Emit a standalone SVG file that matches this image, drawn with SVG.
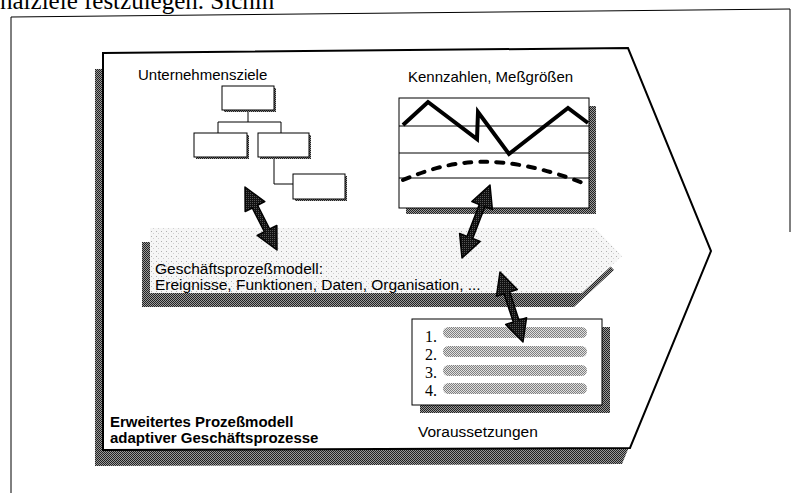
<svg xmlns="http://www.w3.org/2000/svg" width="792" height="493" viewBox="0 0 792 493">
<defs>
<pattern id="dk" width="2" height="2" patternUnits="userSpaceOnUse"><rect width="2" height="2" fill="#9a9a9a"/><rect width="1" height="1" fill="#222"/><rect x="1" y="1" width="1" height="1" fill="#222"/></pattern>
<pattern id="lt" width="5" height="5" patternUnits="userSpaceOnUse"><rect width="5" height="5" fill="#f6f6f6"/><rect x="1" y="1" width="1" height="1" fill="#b0b0b0"/><rect x="3" y="3" width="1" height="1" fill="#d0d0d0"/></pattern>
<pattern id="md" width="2" height="2" patternUnits="userSpaceOnUse"><rect width="2" height="2" fill="#e0e0e0"/><rect width="1" height="1" fill="#808080"/><rect x="1" y="1" width="1" height="1" fill="#808080"/></pattern>
<pattern id="ar" width="2" height="2" patternUnits="userSpaceOnUse"><rect width="2" height="2" fill="#111"/><rect width="1" height="1" fill="#555"/></pattern>
</defs>
<style>
.t{font-family:"Liberation Sans",Arial,sans-serif;fill:#000}
.s{font-family:"Liberation Serif","Times New Roman",serif;fill:#000}
.box{fill:#fff;stroke:#000;stroke-width:1}
.sh{fill:url(#dk)}
.ln{fill:none;stroke:#000;stroke-width:1}
.arr{fill:url(#ar);stroke:#000;stroke-width:1.5;stroke-linejoin:round}
.bar{fill:url(#md)}
</style>

<text class="s" x="0" y="9" font-size="25">nalziele festzulegen. Sichin</text>

<g id="frame">
<polyline class="ln" points="11,493 11,17 790,9 790,232" stroke-width="1.5"/>
</g>

<g id="process-model">
<polygon class="sh" points="95,69 620,64 703,267 622,464 95,466"/>
<polygon fill="#fff" stroke="#000" stroke-width="2" points="103,53 628,48 711,251 630,448 103,450"/>
<text class="t" x="110" y="427" font-size="15" font-weight="bold">Erweitertes Prozeßmodell</text>
<text class="t" x="110" y="443" font-size="15" font-weight="bold">adaptiver Geschäftsprozesse</text>
</g>

<g id="goals">
<text class="t" x="138" y="80" font-size="15">Unternehmensziele</text>
<polyline class="ln" points="248,110 248,122"/>
<polyline class="ln" points="218,133 218,122 281,122 281,133"/>
<polyline class="ln" points="274,157 274,184 293,184"/>
<rect class="sh" x="224" y="88" width="52" height="24"/>
<rect class="box" x="222" y="86" width="52" height="24"/>
<rect class="sh" x="196" y="135" width="53" height="24"/>
<rect class="box" x="194" y="133" width="53" height="24"/>
<rect class="sh" x="260" y="135" width="51" height="24"/>
<rect class="box" x="258" y="133" width="51" height="24"/>
<rect class="sh" x="295" y="176" width="52" height="25"/>
<rect class="box" x="293" y="174" width="52" height="25"/>
</g>

<g id="metrics">
<text class="t" x="408" y="82" font-size="15">Kennzahlen, Meßgrößen</text>
<rect class="sh" x="406" y="106" width="190" height="108"/>
<rect class="box" x="399" y="98" width="190" height="110"/>
<line class="ln" x1="399" y1="126" x2="589" y2="126"/>
<line class="ln" x1="399" y1="153" x2="589" y2="153"/>
<line class="ln" x1="399" y1="178" x2="589" y2="178"/>
<polyline fill="none" stroke="#000" stroke-width="4" stroke-linejoin="miter" points="403,125 428,102 477,139 478,112 509,154 568,108 588,123"/>
<path d="M403,180 C450,160 500,150 588,185" fill="none" stroke="#000" stroke-width="4" stroke-linecap="round" stroke-dasharray="7 9"/>
</g>

<g id="business-model">
<polygon class="sh" points="142,242 587,242 614,270 574,307 142,307"/>
<polygon fill="url(#lt)" points="150,228 595,228 622,256 582,293 150,293"/>
<text class="t" x="155" y="274" font-size="15.5">Geschäftsprozeßmodell:</text>
<text class="t" x="155" y="290" font-size="15.5">Ereignisse, Funktionen, Daten, Organisation, ...</text>
</g>

<g id="prerequisites">
<rect class="sh" x="420" y="327" width="190" height="86"/>
<rect class="box" x="412" y="319" width="190" height="86"/>
<text class="s" x="425" y="342" font-size="16">1.</text>
<text class="s" x="425" y="360" font-size="16">2.</text>
<text class="s" x="425" y="378" font-size="16">3.</text>
<text class="s" x="425" y="396" font-size="16">4.</text>
<rect class="bar" x="443" y="327" width="144" height="11" rx="5.5"/>
<rect class="bar" x="443" y="346" width="144" height="11" rx="5.5"/>
<rect class="bar" x="443" y="365" width="144" height="11" rx="5.5"/>
<rect class="bar" x="443" y="383" width="144" height="11" rx="5.5"/>
<text class="t" x="418" y="437" font-size="15.5">Voraussetzungen</text>
</g>

<g id="connectors">
<polygon class="arr" points="245,187 245.15,211.6 252.29,207.98 264.37,231.74 257.23,235.36 277,250 276.85,225.4 269.71,229.02 257.63,205.26 264.77,201.64"/>
<polygon class="arr" points="490,185 471.85,201.6 479.32,204.47 467.08,236.39 459.61,233.52 462,258 480.15,241.4 472.68,238.53 484.92,206.61 492.39,209.48"/>
<polygon class="arr" points="500,272 496.42,296.33 504.02,293.84 513.28,322.04 505.68,324.53 523,342 526.58,317.67 518.98,320.16 509.72,291.96 517.32,289.47"/>
</g>
</svg>
